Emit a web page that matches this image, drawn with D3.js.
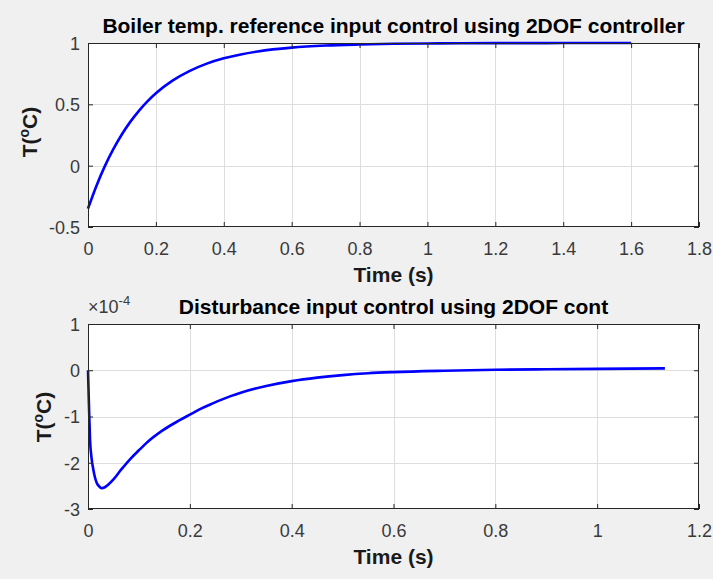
<!DOCTYPE html>
<html><head><meta charset="utf-8">
<script src="https://cdn.jsdelivr.net/npm/d3@7"></script>
<style>
body{margin:0;background:#f0f0f0;}
svg{display:block;font-family:"Liberation Sans",Arial,Helvetica,sans-serif;}
</style>
</head><body>
<svg id="c" width="713" height="579"></svg>
<script>
// ---- Data ----
const refTime = [0,0.025,0.05,0.075,0.1,0.125,0.15,0.175,0.2,0.25,0.3,0.35,0.4,0.45,0.5,0.6,0.7,0.8,0.9,1.0,1.1,1.2,1.3,1.4,1.5,1.6];
const refTemp = [-0.35,-0.163,-0.002,0.136,0.256,0.359,0.447,0.524,0.59,0.695,0.773,0.832,0.875,0.907,0.931,0.962,0.979,0.988,0.994,0.996,0.998,0.999,0.999,0.9995,0.9995,0.9995];
const refXTicks = [0,0.2,0.4,0.6,0.8,1,1.2,1.4,1.6,1.8];
const refYTicks = [-0.5,0,0.5,1];

const distTime = [0,0.002,0.004,0.007,0.0105,0.014,0.017,0.021,0.027,0.033,0.04,0.05,0.065,0.082,0.1,0.115,0.148,0.18,0.2,0.22,0.24,0.26,0.28,0.3,0.35,0.4,0.45,0.5,0.55,0.6,0.7,0.8,0.9,1.0,1.133];
// values in units of 1e-4 (axis exponent)
const distTemp = [0,-0.8,-1.5,-1.9,-2.15,-2.33,-2.43,-2.5,-2.55,-2.53,-2.47,-2.36,-2.15,-1.93,-1.73,-1.57,-1.29,-1.08,-0.96,-0.84,-0.74,-0.645,-0.56,-0.485,-0.34,-0.235,-0.16,-0.105,-0.065,-0.04,-0.01,0.01,0.02,0.03,0.04];
const distXTicks = [0,0.2,0.4,0.6,0.8,1,1.2];
const distYTicks = [-3,-2,-1,0,1];
const distExponent = "-4";

const titles = ["Boiler temp. reference input control using 2DOF controller","Disturbance input control using 2DOF cont"];
const xLabel = "Time (s)";

// ---- Drawing ----
const svg = d3.select("#c");
const fmt = d => String(d);

function panel(o){
  const x = d3.scaleLinear().domain(o.xDomain).range([o.left, o.right]);
  const y = d3.scaleLinear().domain(o.yDomain).range([o.bottom, o.top]);
  const g = svg.append("g");
  g.append("rect").attr("x",o.left).attr("y",o.top).attr("width",o.right-o.left).attr("height",o.bottom-o.top).attr("fill","#fff");
  // grid
  g.append("g").selectAll("line").data(o.xTicks.slice(1,-1)).join("line")
    .attr("x1",d=>Math.round(x(d))+0.5).attr("x2",d=>Math.round(x(d))+0.5)
    .attr("y1",o.top).attr("y2",o.bottom).attr("stroke","#dedede").attr("stroke-width",1);
  g.append("g").selectAll("line").data(o.yTicks.slice(1,-1)).join("line")
    .attr("y1",d=>Math.round(y(d))+0.5).attr("y2",d=>Math.round(y(d))+0.5)
    .attr("x1",o.left).attr("x2",o.right).attr("stroke","#dedede").attr("stroke-width",1);
  // line
  const line = d3.line().x(d=>x(d[0])).y(d=>y(d[1])).curve(d3.curveMonotoneX);
  g.append("path").datum(o.xs.map((t,i)=>[t,o.ys[i]])).attr("d",line)
    .attr("fill","none").attr("stroke","#0000ff").attr("stroke-width",2.6).attr("stroke-linejoin","round");
  // axes
  const axStyle = sel => {
    sel.select(".domain").remove();
    sel.selectAll(".tick line").attr("stroke","#262626");
    sel.selectAll("text").attr("fill","#3a3a3a").attr("font-size",18).attr("font-family",'"Liberation Sans",Arial,sans-serif');
  };
  const ab = g.append("g").attr("transform",`translate(0,${o.bottom})`)
    .call(d3.axisBottom(x).tickValues(o.xTicks).tickSizeInner(-5).tickSizeOuter(0).tickFormat(fmt)).call(axStyle);
  ab.selectAll("text").attr("y",28).attr("dy",null);
  const al = g.append("g").attr("transform",`translate(${o.left},0)`)
    .call(d3.axisLeft(y).tickValues(o.yTicks).tickSizeInner(-5).tickSizeOuter(0).tickFormat(fmt)).call(axStyle);
  al.selectAll("text").attr("x",-8).attr("dy","0.36em");
  g.append("g").attr("transform",`translate(0,${o.top})`)
    .call(d3.axisTop(x).tickValues(o.xTicks).tickSizeInner(-5).tickSizeOuter(0).tickFormat("")).call(axStyle);
  g.append("g").attr("transform",`translate(${o.right},0)`)
    .call(d3.axisRight(y).tickValues(o.yTicks).tickSizeInner(-5).tickSizeOuter(0).tickFormat("")).call(axStyle);
  // box
  g.append("rect").attr("x",o.left+0.5).attr("y",o.top+0.5).attr("width",o.right-o.left-1).attr("height",o.bottom-o.top-1)
    .attr("fill","none").attr("stroke","#262626").attr("stroke-width",1);
  // title
  const cx = (o.left+o.right)/2;
  g.append("text").attr("x",cx).attr("y",o.top-10).attr("text-anchor","middle")
    .attr("font-size",21).attr("font-weight","bold").attr("fill","#000").text(o.title);
  // x label
  g.append("text").attr("x",cx).attr("y",o.bottom+55).attr("text-anchor","middle")
    .attr("font-size",21).attr("font-weight","bold").attr("fill","#1a1a1a").text(xLabel);
  // y label
  const yl = g.append("text").attr("transform",`translate(${o.ylabelX},${o.ylabelY}) rotate(-90)`)
    .attr("text-anchor","middle").attr("font-size",21).attr("font-weight","bold").attr("fill","#1a1a1a");
  yl.append("tspan").text("T(");
  yl.append("tspan").attr("font-size",14).attr("dy",-8).text("o");
  yl.append("tspan").attr("dy",8).text("C)");
  return {x,y,g};
}

panel({left:88,right:699,top:43,bottom:227,xDomain:[0,1.8],yDomain:[-0.5,1],
  xTicks:refXTicks,yTicks:refYTicks,xs:refTime,ys:refTemp,title:titles[0],ylabelX:37,ylabelY:132});

const p2 = panel({left:88,right:699,top:324,bottom:509,xDomain:[0,1.2],yDomain:[-3,1],
  xTicks:distXTicks,yTicks:distYTicks,xs:distTime,ys:distTemp,title:titles[1],ylabelX:51,ylabelY:417});

// exponent label
const ex = p2.g.append("text").attr("x",88).attr("y",313).attr("fill","#3a3a3a").attr("font-size",18);
ex.append("tspan").text("\u00d710");
ex.append("tspan").attr("font-size",13).attr("dy",-8).text(distExponent);
</script>
</body></html>
